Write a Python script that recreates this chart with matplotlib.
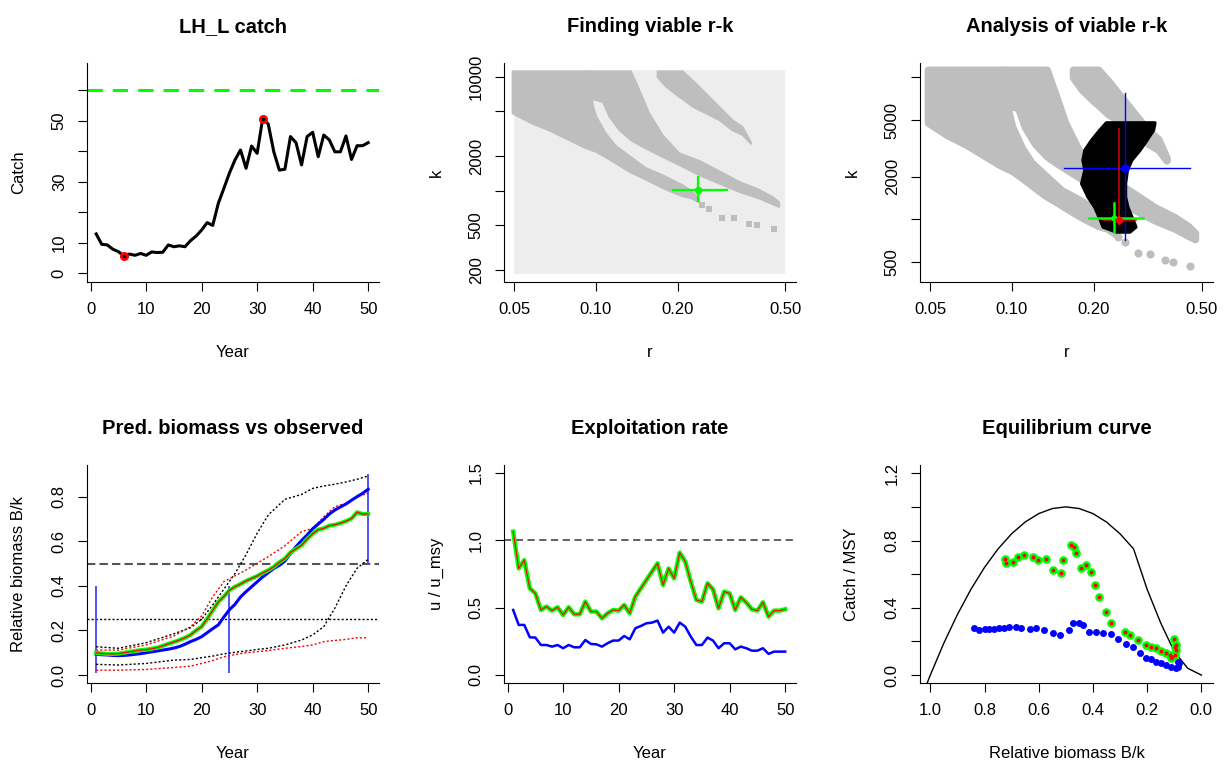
import matplotlib
matplotlib.use('Agg')
import matplotlib.pyplot as plt
from matplotlib.ticker import NullLocator

plt.rcParams['font.family'] = ['Liberation Sans', 'DejaVu Sans']

# ---- data ----
years = list(range(1, 51))
catch = [12.9, 9.5, 9.3, 7.9, 7.1, 5.7, 6.3, 5.9, 6.5, 5.9, 7.0, 6.8, 6.9, 9.3, 8.7,
         9.0, 8.7, 10.7, 12.2, 14.2, 16.6, 15.7, 22.9, 27.8, 32.8, 37.1, 40.4, 34.4,
         41.7, 39.3, 50.7, 48.9, 39.8, 33.8, 34.1, 44.8, 42.8, 35.5, 44.8, 46.2, 38.2,
         45.3, 43.7, 39.8, 39.8, 45.0, 37.3, 41.8, 41.8, 42.8]
catch_ref = 60.0

# prior r-k box and viable r-k bands (r, k_low, k_high)
r_prior = [0.05, 0.5]
k_prior = [185, 11400]
band_a_r = [0.049, 0.058, 0.067, 0.077, 0.089, 0.094, 0.097, 0.100, 0.1085, 0.118,
            0.132, 0.152, 0.176, 0.191, 0.208, 0.225, 0.24]
band_a_lo = [4800, 3900, 3400, 2900, 2450, 2320, 2260, 2200, 1970, 1743, 1480, 1260,
             1060, 975, 900, 860, 790]
band_a_hi = [11300, 11300, 11300, 11300, 11300, 11300, 5700, 4500, 3200, 2500, 2050,
             1600, 1380, 1250, 1130, 1000, 840]
band_b_r = [0.0942, 0.1055, 0.1116, 0.1215, 0.1342, 0.1441, 0.1568, 0.1756, 0.2023,
            0.2397, 0.2839, 0.3365, 0.3988, 0.4466, 0.4726]
band_b_lo = [6494, 6071, 4482, 3422, 2790, 2530, 2283, 1990, 1690, 1377, 1163, 982,
             859, 765, 725]
band_b_hi = [11300, 11300, 11300, 11300, 11300, 7700, 4800, 3100, 2150, 1850, 1500,
             1210, 1030, 890, 800]
band_c_r = [0.168, 0.181, 0.202, 0.208, 0.2265, 0.2536, 0.2839, 0.318, 0.3462, 0.3716]
band_c_lo = [10000, 8200, 6700, 6400, 5500, 4800, 4200, 3400, 3100, 2600]
band_c_hi = [11300, 11300, 11300, 11300, 9400, 7200, 5500, 4200, 3660, 2700]
spare_r = [0.2465, 0.2608, 0.2921, 0.3224, 0.3662, 0.3933, 0.4529]
spare_k = [750, 688, 575, 570, 515, 497, 465]

# BSM posterior cloud (k levels with r range)
post_k = [819, 888, 1017, 1229, 1446, 1796, 2230, 2624, 3087, 3633, 4273, 4813]
post_r_lo = [0.242, 0.216, 0.210, 0.201, 0.190, 0.180, 0.185, 0.182, 0.185, 0.196, 0.210, 0.222]
post_r_hi = [0.271, 0.285, 0.277, 0.266, 0.261, 0.261, 0.265, 0.275, 0.295, 0.313, 0.331, 0.335]

# estimates: (r, r_lo, r_hi, k, k_lo, k_hi)
cmsy_est = (0.238, 0.193, 0.305, 1020, 810, 1305)
bsm_est = (0.261, 0.155, 0.455, 2290, 715, 7750)
mean_est = (0.248, 0.216, 0.287, 990, 950, 4320)

# relative biomass B/k
bk_cmsy = [0.100, 0.097, 0.095, 0.095, 0.096, 0.100, 0.104, 0.108, 0.112, 0.114, 0.118,
           0.123, 0.131, 0.140, 0.148, 0.157, 0.167, 0.180, 0.200, 0.217, 0.252, 0.290,
           0.328, 0.352, 0.380, 0.396, 0.408, 0.422, 0.433, 0.444, 0.458, 0.470, 0.485,
           0.506, 0.522, 0.550, 0.566, 0.582, 0.610, 0.634, 0.652, 0.658, 0.670, 0.674,
           0.681, 0.690, 0.702, 0.730, 0.722, 0.722]
bk_bsm = [0.094, 0.091, 0.090, 0.088, 0.087, 0.088, 0.090, 0.093, 0.096, 0.100, 0.104,
          0.108, 0.112, 0.116, 0.121, 0.128, 0.138, 0.150, 0.160, 0.172, 0.190, 0.208,
          0.225, 0.260, 0.293, 0.317, 0.350, 0.374, 0.396, 0.418, 0.440, 0.459, 0.478,
          0.492, 0.511, 0.545, 0.576, 0.603, 0.628, 0.656, 0.677, 0.698, 0.722, 0.740,
          0.754, 0.767, 0.784, 0.800, 0.815, 0.833]
ci_years = [1, 5, 10, 15, 18, 20, 22, 24, 26, 28, 30, 32, 35, 38, 40, 42, 44, 46, 48, 50]
bk_cmsy_hi = [0.127, 0.120, 0.145, 0.185, 0.212, 0.250, 0.315, 0.385, 0.455, 0.540, 0.636,
              0.718, 0.788, 0.810, 0.837, 0.848, 0.856, 0.866, 0.878, 0.893]
bk_cmsy_lo = [0.048, 0.045, 0.052, 0.067, 0.070, 0.078, 0.085, 0.095, 0.102, 0.108, 0.115,
              0.120, 0.135, 0.157, 0.180, 0.217, 0.300, 0.400, 0.479, 0.519]
bk_bsm_hi = [0.112, 0.112, 0.135, 0.175, 0.217, 0.265, 0.351, 0.419, 0.445, 0.471, 0.501,
             0.531, 0.580, 0.643, 0.658, 0.710, 0.755, 0.770, 0.800, 0.815]
bk_bsm_lo = [0.022, 0.022, 0.025, 0.034, 0.040, 0.052, 0.065, 0.082, 0.092, 0.100, 0.105,
             0.110, 0.120, 0.128, 0.135, 0.150, 0.155, 0.160, 0.167, 0.167]
prior_years = [1, 25, 50]
prior_lo = [0.01, 0.01, 0.5]
prior_hi = [0.4, 0.4, 0.9]

# exploitation rate u / u_msy
u_cmsy = [1.063, 0.79, 0.852, 0.642, 0.605, 0.482, 0.507, 0.477, 0.502, 0.445, 0.502,
          0.45, 0.45, 0.544, 0.47, 0.47, 0.42, 0.457, 0.482, 0.477, 0.519, 0.457, 0.58,
          0.642, 0.704, 0.766, 0.828, 0.667, 0.79, 0.716, 0.907, 0.84, 0.692, 0.556,
          0.544, 0.68, 0.635, 0.494, 0.618, 0.605, 0.482, 0.576, 0.536, 0.487, 0.477,
          0.539, 0.432, 0.477, 0.477, 0.487]
u_bsm = [0.482, 0.371, 0.371, 0.279, 0.277, 0.222, 0.222, 0.21, 0.222, 0.198, 0.222,
         0.205, 0.205, 0.259, 0.23, 0.227, 0.21, 0.235, 0.255, 0.255, 0.289, 0.264,
         0.346, 0.363, 0.383, 0.388, 0.403, 0.314, 0.358, 0.314, 0.388, 0.358, 0.284,
         0.222, 0.222, 0.277, 0.255, 0.198, 0.235, 0.235, 0.19, 0.21, 0.198, 0.18, 0.18,
         0.198, 0.156, 0.173, 0.173, 0.173]

# equilibrium curve and observed points
eq_bk = [1.012, 1.0, 0.95, 0.9, 0.85, 0.8, 0.75, 0.7, 0.65, 0.6, 0.55, 0.5, 0.45, 0.4,
         0.35, 0.3, 0.25, 0.2, 0.15, 0.1, 0.05, 0.0]
eq_c = [-0.05, 0.0, 0.19, 0.36, 0.51, 0.64, 0.75, 0.84, 0.91, 0.96, 0.99, 1.0, 0.99,
        0.96, 0.91, 0.84, 0.75, 0.51, 0.31, 0.14, 0.04, 0.0]
eq_cmsy_x = [0.723, 0.720, 0.696, 0.677, 0.653, 0.622, 0.603, 0.573, 0.548, 0.517, 0.511,
             0.480, 0.468, 0.462, 0.443, 0.425, 0.406, 0.394, 0.376, 0.351, 0.333, 0.283,
             0.265, 0.234, 0.203, 0.185, 0.166, 0.148, 0.129, 0.117, 0.107, 0.099, 0.099,
             0.102, 0.095, 0.092, 0.111]
eq_cmsy_y = [0.688, 0.664, 0.674, 0.704, 0.714, 0.704, 0.684, 0.688, 0.625, 0.605, 0.684,
             0.773, 0.764, 0.724, 0.635, 0.655, 0.615, 0.535, 0.466, 0.377, 0.307, 0.258,
             0.238, 0.208, 0.178, 0.165, 0.159, 0.145, 0.129, 0.119, 0.109, 0.119, 0.169,
             0.212, 0.178, 0.149, 0.099]
eq_bsm_x = [0.837, 0.819, 0.800, 0.782, 0.764, 0.745, 0.727, 0.708, 0.684, 0.665, 0.634,
            0.610, 0.579, 0.548, 0.520, 0.489, 0.472, 0.450, 0.435, 0.413, 0.388, 0.363,
            0.333, 0.308, 0.277, 0.252, 0.228, 0.203, 0.185, 0.166, 0.148, 0.129, 0.111,
            0.095, 0.086, 0.086, 0.083]
eq_bsm_y = [0.278, 0.268, 0.272, 0.272, 0.274, 0.282, 0.282, 0.284, 0.288, 0.278, 0.274,
            0.278, 0.268, 0.248, 0.238, 0.268, 0.311, 0.311, 0.298, 0.258, 0.258, 0.252,
            0.242, 0.212, 0.182, 0.169, 0.129, 0.103, 0.093, 0.079, 0.069, 0.060, 0.050,
            0.040, 0.050, 0.079, 0.069]

GREEN = '#00FF00'
GREY = '#BEBEBE'
W, H = 1224, 763
fig = plt.figure(figsize=(W / 100, H / 100), dpi=100)


def panel(x0, y0, x1, y1):
    ax = fig.add_axes([x0 / W, 1 - y1 / H, (x1 - x0) / W, (y1 - y0) / H])
    ax.spines['top'].set_visible(False)
    ax.spines['right'].set_visible(False)
    ax.spines['left'].set_linewidth(0.8)
    ax.spines['bottom'].set_linewidth(0.8)
    ax.tick_params(length=6.5, width=0.8, labelsize=12, pad=8)
    return ax


def texts(ax, title, xlabel, ylabel):
    ax.set_title(title, fontsize=14.5, fontweight='bold', pad=22.5)
    ax.set_xlabel(xlabel, fontsize=12, va='baseline')
    ax.set_ylabel(ylabel, fontsize=12, va='center')
    pos = ax.get_position()
    ax.xaxis.set_label_coords(0.5, -75 / (pos.height * H))
    ax.yaxis.set_label_coords(-68 / (pos.width * W), 0.5)


def year_axis(ax):
    ax.set_xlim(-0.65, 51.95)
    ax.set_xticks([0, 10, 20, 30, 40, 50], ['0', '10', '20', '30', '40', '50'])


def log_axes(ax, xlim, ylim, yt, ylab):
    ax.set_xscale('log')
    ax.set_yscale('log')
    ax.set_xlim(*xlim)
    ax.set_ylim(*ylim)
    ax.set_xticks([0.05, 0.1, 0.2, 0.5], ['0.05', '0.10', '0.20', '0.50'])
    ax.set_yticks(yt, ylab, rotation=90, va='center')
    ax.xaxis.set_minor_locator(NullLocator())
    ax.yaxis.set_minor_locator(NullLocator())


bands = ((band_a_r, band_a_lo, band_a_hi), (band_b_r, band_b_lo, band_b_hi),
         (band_c_r, band_c_lo, band_c_hi))

# 1. catch
ax = panel(87, 63, 379, 282)
ax.axhline(catch_ref, color=GREEN, lw=2.2, linestyle=(0, (5, 3.3)))
ax.plot(years, catch, color='black', lw=2.2)
i_min = catch.index(min(catch))
i_max = catch.index(max(catch))
for i in (i_min, i_max):
    ax.plot(years[i], catch[i], 'o', color='red', ms=5.5, mec='red')
    ax.plot(years[i], catch[i], 'o', color='black', ms=1.5)
year_axis(ax)
ax.set_ylim(-2.85, 68.9)
ax.set_yticks([0, 10, 20, 30, 40, 50, 60], ['0', '10', '', '30', '', '50', ''],
              rotation=90, va='center')
texts(ax, 'LH_L catch', 'Year', 'Catch')

# 2. finding viable r-k
ax = panel(504, 63, 796, 282)
ax.fill_between(r_prior, k_prior[0], k_prior[1], color='#EDEDED', lw=0)
for br, blo, bhi in bands:
    ax.fill_between(br, blo, bhi, facecolor=GREY, edgecolor=GREY, lw=1.2)
ax.scatter(spare_r, spare_k, marker='s', s=13, color=GREY, lw=0)
r, rlo, rhi, k, klo, khi = cmsy_est
ax.plot([rlo, rhi], [k, k], color=GREEN, lw=1.6)
ax.plot([r, r], [klo, khi], color=GREEN, lw=1.6)
ax.plot(r, k, 'o', color=GREEN, ms=4.5)
log_axes(ax, (0.0458, 0.547), (157.9, 13196), [200, 500, 1000, 2000, 5000, 10000],
         ['200', '500', '', '2000', '', '10000'])
texts(ax, 'Finding viable r-k', 'r', 'k')

# 3. analysis of viable r-k
ax = panel(920, 63, 1213, 282)
for br, blo, bhi in bands:
    ax.fill_between(br, blo, bhi, facecolor=GREY, edgecolor=GREY, lw=5.5, joinstyle='round')
ax.scatter(spare_r, spare_k, marker='o', s=34, color=GREY, lw=0)
ax.fill_betweenx(post_k, post_r_lo, post_r_hi, facecolor='black', edgecolor='black',
                 lw=2.5, joinstyle='round')
r, rlo, rhi, k, klo, khi = bsm_est
ax.plot([rlo, rhi], [k, k], color='blue', lw=1.0)
ax.plot([r, r], [klo, khi], color='blue', lw=1.0)
ax.plot(r, k, 'o', color='blue', ms=5)
r, rlo, rhi, k, klo, khi = mean_est
ax.plot([rlo, rhi], [k, k], color='#CC0000', lw=1.2)
ax.plot([r, r], [klo, khi], color='#CC0000', lw=1.2)
r, rlo, rhi, k, klo, khi = cmsy_est
ax.plot([rlo, rhi], [k, k], color=GREEN, lw=1.8)
ax.plot([r, r], [klo, khi], color=GREEN, lw=1.8)
ax.plot(r, k, 'o', color=GREEN, ms=3.5)
r, rlo, rhi, k, klo, khi = mean_est
ax.plot(r, k, 'D', color='red', ms=4.5)
log_axes(ax, (0.0458, 0.551), (361, 12624), [500, 1000, 2000, 5000, 10000],
         ['500', '', '2000', '5000', ''])
texts(ax, 'Analysis of viable r-k', 'r', 'k')

# 4. predicted biomass
ax = panel(87, 465, 379, 683.3)
ax.axhline(0.5, color='#555555', lw=1.5, linestyle=(0, (4, 2)))
ax.axhline(0.25, color='black', lw=1.0, linestyle=(0, (1.5, 1.5)))
ax.vlines(prior_years, prior_lo, prior_hi, color='#4444FF', lw=1.3)
ax.plot(ci_years, bk_cmsy_hi, color='black', lw=1.0, linestyle=(0, (1.5, 1.5)))
ax.plot(ci_years, bk_cmsy_lo, color='black', lw=1.0, linestyle=(0, (1.5, 1.5)))
ax.plot(ci_years, bk_bsm_hi, color='red', lw=1.0, linestyle=(0, (1.5, 1.5)))
ax.plot(ci_years, bk_bsm_lo, color='red', lw=1.0, linestyle=(0, (1.5, 1.5)))
ax.plot(years, bk_bsm, color='blue', lw=2.2)
ax.plot(years, bk_cmsy, color=GREEN, lw=3.0)
ax.plot(years, bk_cmsy, color='red', lw=0.9)
year_axis(ax)
ax.set_ylim(-0.037, 0.942)
ax.set_yticks([0, 0.2, 0.4, 0.6, 0.8], ['0.0', '0.2', '0.4', '0.6', '0.8'],
              rotation=90, va='center')
texts(ax, 'Pred. biomass vs observed', 'Year', 'Relative biomass B/k')

# 5. exploitation rate
ax = panel(504, 465, 796, 683.3)
ax.axhline(1.0, color='#555555', lw=1.3, linestyle=(0, (4, 2.5)))
ax.plot(years, u_cmsy, color=GREEN, lw=3.2)
ax.plot(years, u_cmsy, color='red', lw=0.8)
ax.plot(years, u_bsm, color='blue', lw=1.8)
year_axis(ax)
ax.set_ylim(-0.062, 1.557)
ax.set_yticks([0, 0.5, 1.0, 1.5], ['0.0', '0.5', '1.0', '1.5'], rotation=90, va='center')
texts(ax, 'Exploitation rate', 'Year', 'u / u_msy')

# 6. equilibrium curve
ax = panel(920, 465, 1213, 683.3)
ax.plot(eq_bk, eq_c, color='black', lw=1.0)
ax.plot(eq_cmsy_x, eq_cmsy_y, 'o', color=GREEN, ms=6.2, mew=0)
ax.plot(eq_cmsy_x, eq_cmsy_y, 'o', color='red', ms=2.8, mew=0)
ax.plot(eq_bsm_x, eq_bsm_y, 'o', color='blue', ms=5.0, mew=0)
ax.set_xlim(1.038, -0.043)
ax.set_ylim(-0.049, 1.249)
ax.set_xticks([1.0, 0.8, 0.6, 0.4, 0.2, 0.0], ['1.0', '0.8', '0.6', '0.4', '0.2', '0.0'])
ax.set_yticks([0, 0.2, 0.4, 0.6, 0.8, 1.0, 1.2], ['0.0', '', '0.4', '', '0.8', '', '1.2'],
              rotation=90, va='center')
texts(ax, 'Equilibrium curve', 'Relative biomass B/k', 'Catch / MSY')

fig.savefig('out.png', dpi=100)
